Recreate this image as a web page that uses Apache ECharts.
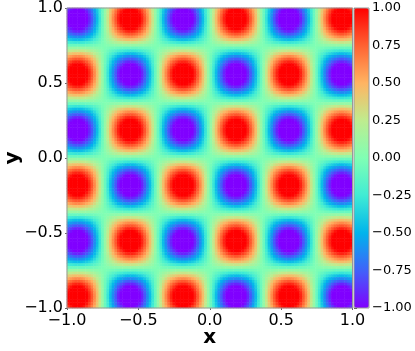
<!DOCTYPE html>
<html>
<head>
<meta charset="UTF-8">
<title></title>
<style>
html,body{margin:0;padding:0;background:#fff;}
#main{width:415px;height:351px;}
</style>
</head>
<body>
<div id="main"></div>
<script src="https://cdn.jsdelivr.net/npm/echarts@6/dist/echarts.min.js"></script>
<script>
// values, one row per band of the pattern, left to right
var rowA=[-.08,-.09,-.09,-.09,-.09,-.09,-.09,-.08,-.07,-.06,-.05,-.04,-.02,-.01,.01,.02,.04,.05,.06,.07,.08,.09,.09,.09,.09,.09,.09,.08,.07,.06,.05,.04,.02,.01,-.01,-.02,-.04,-.05,-.06,-.07,-.08,-.09,-.09,-.09,-.09,-.09,-.09,-.08,-.07,-.06,-.05,-.04,-.02,-.01,.01,.02,.04,.05,.06,.07,.08,.09,.09,.09,.09,.09,.09,.08,.07,.06,.05,.04,.02,.01,-.01,-.02,-.04,-.05,-.06,-.07,-.08,-.09,-.09,-.09,-.09,-.09,-.09,-.08,-.07,-.06,-.05,-.04,-.02,-.01,.01,.02,.04,.05,.06,.07,.08,.09,.09,.09,.09,.09,.09,.08];
var rowB=[-.24,-.26,-.27,-.28,-.28,-.27,-.26,-.24,-.21,-.18,-.15,-.11,-.07,-.02,.02,.07,.11,.15,.18,.21,.24,.26,.27,.28,.28,.27,.26,.24,.21,.18,.15,.11,.07,.02,-.02,-.07,-.11,-.15,-.18,-.21,-.24,-.26,-.27,-.28,-.28,-.27,-.26,-.24,-.21,-.18,-.15,-.11,-.07,-.02,.02,.07,.11,.15,.18,.21,.24,.26,.27,.28,.28,.27,.26,.24,.21,.18,.15,.11,.07,.02,-.02,-.07,-.11,-.15,-.18,-.21,-.24,-.26,-.27,-.28,-.28,-.27,-.26,-.24,-.21,-.18,-.15,-.11,-.07,-.02,.02,.07,.11,.15,.18,.21,.24,.26,.27,.28,.28,.27,.26,.24];
var rowC=[-.39,-.42,-.45,-.46,-.46,-.45,-.42,-.39,-.35,-.30,-.24,-.18,-.11,-.04,.04,.11,.18,.24,.30,.35,.39,.42,.45,.46,.46,.45,.42,.39,.35,.30,.24,.18,.11,.04,-.04,-.11,-.18,-.24,-.30,-.35,-.39,-.42,-.45,-.46,-.46,-.45,-.42,-.39,-.35,-.30,-.24,-.18,-.11,-.04,.04,.11,.18,.24,.30,.35,.39,.42,.45,.46,.46,.45,.42,.39,.35,.30,.24,.18,.11,.04,-.04,-.11,-.18,-.24,-.30,-.35,-.39,-.42,-.45,-.46,-.46,-.45,-.42,-.39,-.35,-.30,-.24,-.18,-.11,-.04,.04,.11,.18,.24,.30,.35,.39,.42,.45,.46,.46,.45,.42,.39];
var rowD=[-.53,-.58,-.61,-.63,-.63,-.61,-.58,-.53,-.48,-.41,-.33,-.24,-.15,-.05,.05,.15,.24,.33,.41,.48,.53,.58,.61,.63,.63,.61,.58,.53,.48,.41,.33,.24,.15,.05,-.05,-.15,-.24,-.33,-.41,-.48,-.53,-.58,-.61,-.63,-.63,-.61,-.58,-.53,-.48,-.41,-.33,-.24,-.15,-.05,.05,.15,.24,.33,.41,.48,.53,.58,.61,.63,.63,.61,.58,.53,.48,.41,.33,.24,.15,.05,-.05,-.15,-.24,-.33,-.41,-.48,-.53,-.58,-.61,-.63,-.63,-.61,-.58,-.53,-.48,-.41,-.33,-.24,-.15,-.05,.05,.15,.24,.33,.41,.48,.53,.58,.61,.63,.63,.61,.58,.53];
var rowE=[-.66,-.72,-.76,-.78,-.78,-.76,-.72,-.66,-.59,-.51,-.41,-.30,-.18,-.06,.06,.18,.30,.41,.51,.59,.66,.72,.76,.78,.78,.76,.72,.66,.59,.51,.41,.30,.18,.06,-.06,-.18,-.30,-.41,-.51,-.59,-.66,-.72,-.76,-.78,-.78,-.76,-.72,-.66,-.59,-.51,-.41,-.30,-.18,-.06,.06,.18,.30,.41,.51,.59,.66,.72,.76,.78,.78,.76,.72,.66,.59,.51,.41,.30,.18,.06,-.06,-.18,-.30,-.41,-.51,-.59,-.66,-.72,-.76,-.78,-.78,-.76,-.72,-.66,-.59,-.51,-.41,-.30,-.18,-.06,.06,.18,.30,.41,.51,.59,.66,.72,.76,.78,.78,.76,.72,.66];
var rowF=[-.78,-.84,-.89,-.91,-.91,-.89,-.84,-.78,-.69,-.59,-.48,-.35,-.21,-.07,.07,.21,.35,.48,.59,.69,.78,.84,.89,.91,.91,.89,.84,.78,.69,.59,.48,.35,.21,.07,-.07,-.21,-.35,-.48,-.59,-.69,-.78,-.84,-.89,-.91,-.91,-.89,-.84,-.78,-.69,-.59,-.48,-.35,-.21,-.07,.07,.21,.35,.48,.59,.69,.78,.84,.89,.91,.91,.89,.84,.78,.69,.59,.48,.35,.21,.07,-.07,-.21,-.35,-.48,-.59,-.69,-.78,-.84,-.89,-.91,-.91,-.89,-.84,-.78,-.69,-.59,-.48,-.35,-.21,-.07,.07,.21,.35,.48,.59,.69,.78,.84,.89,.91,.91,.89,.84,.78];
var rowG=[-.87,-.95,-.99,-1,-1,-.99,-.95,-.87,-.78,-.66,-.53,-.39,-.24,-.08,.08,.24,.39,.53,.66,.78,.87,.95,.99,1,1,.99,.95,.87,.78,.66,.53,.39,.24,.08,-.08,-.24,-.39,-.53,-.66,-.78,-.87,-.95,-.99,-1,-1,-.99,-.95,-.87,-.78,-.66,-.53,-.39,-.24,-.08,.08,.24,.39,.53,.66,.78,.87,.95,.99,1,1,.99,.95,.87,.78,.66,.53,.39,.24,.08,-.08,-.24,-.39,-.53,-.66,-.78,-.87,-.95,-.99,-1,-1,-.99,-.95,-.87,-.78,-.66,-.53,-.39,-.24,-.08,.08,.24,.39,.53,.66,.78,.87,.95,.99,1,1,.99,.95,.87];
var rowH=[-.95,-1,-1,-1,-1,-1,-1,-.95,-.84,-.72,-.58,-.42,-.26,-.09,.09,.26,.42,.58,.72,.84,.95,1,1,1,1,1,1,.95,.84,.72,.58,.42,.26,.09,-.09,-.26,-.42,-.58,-.72,-.84,-.95,-1,-1,-1,-1,-1,-1,-.95,-.84,-.72,-.58,-.42,-.26,-.09,.09,.26,.42,.58,.72,.84,.95,1,1,1,1,1,1,.95,.84,.72,.58,.42,.26,.09,-.09,-.26,-.42,-.58,-.72,-.84,-.95,-1,-1,-1,-1,-1,-1,-.95,-.84,-.72,-.58,-.42,-.26,-.09,.09,.26,.42,.58,.72,.84,.95,1,1,1,1,1,1,.95];
var rowI=[-.99,-1,-1,-1,-1,-1,-1,-.99,-.89,-.76,-.61,-.45,-.27,-.09,.09,.27,.45,.61,.76,.89,.99,1,1,1,1,1,1,.99,.89,.76,.61,.45,.27,.09,-.09,-.27,-.45,-.61,-.76,-.89,-.99,-1,-1,-1,-1,-1,-1,-.99,-.89,-.76,-.61,-.45,-.27,-.09,.09,.27,.45,.61,.76,.89,.99,1,1,1,1,1,1,.99,.89,.76,.61,.45,.27,.09,-.09,-.27,-.45,-.61,-.76,-.89,-.99,-1,-1,-1,-1,-1,-1,-.99,-.89,-.76,-.61,-.45,-.27,-.09,.09,.27,.45,.61,.76,.89,.99,1,1,1,1,1,1,.99];
var rowJ=[-1,-1,-1,-1,-1,-1,-1,-1,-.91,-.78,-.63,-.46,-.28,-.09,.09,.28,.46,.63,.78,.91,1,1,1,1,1,1,1,1,.91,.78,.63,.46,.28,.09,-.09,-.28,-.46,-.63,-.78,-.91,-1,-1,-1,-1,-1,-1,-1,-1,-.91,-.78,-.63,-.46,-.28,-.09,.09,.28,.46,.63,.78,.91,1,1,1,1,1,1,1,1,.91,.78,.63,.46,.28,.09,-.09,-.28,-.46,-.63,-.78,-.91,-1,-1,-1,-1,-1,-1,-1,-1,-.91,-.78,-.63,-.46,-.28,-.09,.09,.28,.46,.63,.78,.91,1,1,1,1,1,1,1,1];
// top to bottom; capital keeps the row's sign, lower case flips it
var rowKeys="GHIJJIHGFEDCBA abcdefghijjihgfedcba ABCDEFGHIJJIHGFEDCBA abcdefghijjihgfedcba ABCDEFGHIJJIHGFEDCBA abcdefghijjihg".replace(/ /g,"").split("");
var rainbow=["#8000ff","#4062fa","#00b4ec","#40ecd4","#80ffb4","#bfec8e","#ffb462","#ff6232","#ff0000"];

var rows={A:rowA,B:rowB,C:rowC,D:rowD,E:rowE,F:rowF,G:rowG,H:rowH,I:rowI,J:rowJ};
var cells=[],xCats=[],yCats=[];
rowKeys.forEach(function(k,j){
	yCats.push(j);
	var r=rows[k.toUpperCase()];
	var s=(k===k.toUpperCase())?1:-1;
	r.forEach(function(v,i){cells.push([i,j,s*v]);});
});
rowA.forEach(function(v,i){xCats.push(i);});

function minusFmt(d){
	return function(v){return v.toFixed(d).replace("-","\u2212");};
}
var font="DejaVu Sans";
var myChart=echarts.init(document.getElementById('main'));
myChart.setOption({
	animation:false,
	grid:[
		{left:67,top:8,width:285.5,height:300,outerBoundsMode:'none',show:true,borderColor:'#999',borderWidth:1,backgroundColor:'transparent',z:5},
		{left:354,top:8,width:15,height:300,outerBoundsMode:'none',show:true,borderColor:'#999',borderWidth:1,backgroundColor:'transparent',z:5}
	],
	xAxis:[
		{type:'category',gridIndex:0,data:xCats,show:false},
		{type:'value',gridIndex:0,position:'bottom',min:-1,max:1,interval:0.5,
			name:'x',nameLocation:'middle',nameGap:20,nameMoveOverlap:false,
			nameTextStyle:{fontFamily:font,fontWeight:'bold',fontSize:20,color:'#000'},
			axisLine:{show:false},splitLine:{show:false},
			axisTick:{show:true,length:2,lineStyle:{color:'#666'}},
			axisLabel:{fontFamily:font,fontSize:16,color:'#000',margin:5,hideOverlap:false,showMinLabel:true,showMaxLabel:true,formatter:minusFmt(1)}},
		{type:'value',gridIndex:1,min:0,max:1,show:false}
	],
	yAxis:[
		{type:'category',gridIndex:0,data:yCats,inverse:true,show:false},
		{type:'value',gridIndex:0,position:'left',min:-1,max:1,interval:0.5,
			name:'y',nameLocation:'middle',nameGap:44,nameRotate:90,nameMoveOverlap:false,
			nameTextStyle:{fontFamily:font,fontWeight:'bold',fontSize:20,color:'#000'},
			axisLine:{show:false},splitLine:{show:false},
			axisTick:{show:true,length:2,lineStyle:{color:'#666'}},
			axisLabel:{fontFamily:font,fontSize:16,color:'#000',margin:4,hideOverlap:false,showMinLabel:true,showMaxLabel:true,formatter:minusFmt(1)}},
		{type:'value',gridIndex:1,position:'right',min:-1,max:1,interval:0.25,
			axisLine:{show:false},splitLine:{show:false},
			axisTick:{show:true,length:3,lineStyle:{color:'#333'}},
			axisLabel:{fontFamily:font,fontSize:13,color:'#000',margin:3,hideOverlap:false,showMinLabel:true,showMaxLabel:true,formatter:minusFmt(2)}}
	],
	visualMap:{
		type:'continuous',seriesIndex:0,min:-1,max:1,calculable:false,hoverLink:false,
		left:354,top:8,itemWidth:15,itemHeight:300,padding:0,
		inRange:{color:rainbow}
	},
	series:[{
		type:'heatmap',xAxisIndex:0,yAxisIndex:0,data:cells,silent:true,
		itemStyle:{borderWidth:0},progressive:0
	}]
});
</script>
</body>
</html>
